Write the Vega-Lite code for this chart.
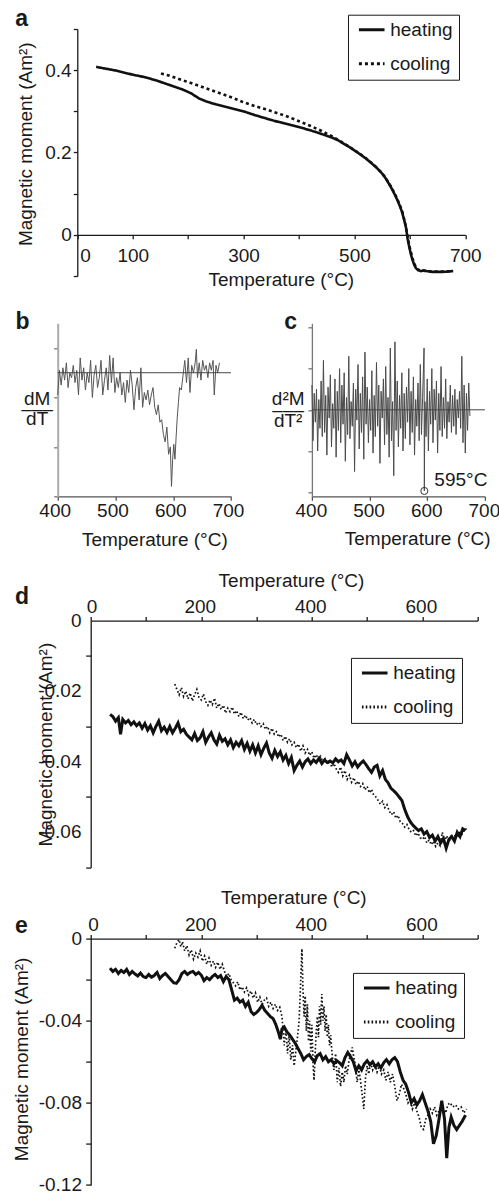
{
  "$schema": "https://vega.github.io/schema/vega-lite/v6.json",
  "background": "white",
  "padding": {"left": 11.7, "top": 7, "right": 0, "bottom": 0},
  "config": {
    "font": "Liberation Sans",
    "view": {"stroke": null},
    "axis": {"grid": false, "labelFontSize": 19, "titleFontSize": 19, "titleFontWeight": "normal", "labelColor": "#1a1a1a", "titleColor": "#1a1a1a", "domainColor": "#1a1a1a", "tickColor": "#1a1a1a", "domainWidth": 1.3, "tickWidth": 1.3, "tickSize": 5, "labelFlush": false, "labelOverlap": false, "labelPadding": 3},
    "legend": {"labelFontSize": 19, "labelColor": "#1a1a1a", "strokeColor": "#1a1a1a", "fillColor": "white", "padding": 5.5, "rowPadding": 14, "symbolType": "M-1.6,0H1.6", "symbolSize": 256, "symbolStrokeWidth": 3, "symbolStrokeColor": "#111", "symbolOffset": 8.75, "labelOffset": 9}
  },
  "resolve": {"scale": {"strokeDash": "independent"}, "legend": {"strokeDash": "independent"}},
  "datasets": {
    "pah": [{"T":34,"M":0.408},{"T":50,"M":0.404},{"T":70,"M":0.399},{"T":85,"M":0.394},{"T":100,"M":0.389},{"T":115,"M":0.385},{"T":130,"M":0.380},{"T":145,"M":0.374},{"T":160,"M":0.367},{"T":175,"M":0.360},{"T":190,"M":0.353},{"T":205,"M":0.344},{"T":220,"M":0.331},{"T":235,"M":0.323},{"T":250,"M":0.317},{"T":265,"M":0.312},{"T":280,"M":0.307},{"T":300,"M":0.300},{"T":320,"M":0.291},{"T":340,"M":0.283},{"T":355,"M":0.277},{"T":370,"M":0.272},{"T":385,"M":0.267},{"T":400,"M":0.262},{"T":415,"M":0.256},{"T":430,"M":0.250},{"T":445,"M":0.243},{"T":460,"M":0.236},{"T":470,"M":0.230},{"T":480,"M":0.222},{"T":490,"M":0.214},{"T":500,"M":0.205},{"T":510,"M":0.196},{"T":520,"M":0.186},{"T":530,"M":0.175},{"T":540,"M":0.163},{"T":548,"M":0.152},{"T":555,"M":0.140},{"T":561,"M":0.127},{"T":567,"M":0.113},{"T":572,"M":0.100},{"T":577,"M":0.086},{"T":582,"M":0.070},{"T":586,"M":0.055},{"T":590,"M":0.035},{"T":593,"M":0.018},{"T":596,"M":-0.010},{"T":599,"M":-0.030},{"T":602,"M":-0.048},{"T":605,"M":-0.062},{"T":608,"M":-0.073},{"T":611,"M":-0.081},{"T":615,"M":-0.086},{"T":620,"M":-0.088},{"T":625,"M":-0.086},{"T":630,"M":-0.088},{"T":640,"M":-0.090},{"T":650,"M":-0.090},{"T":660,"M":-0.090},{"T":670,"M":-0.089},{"T":678,"M":-0.088}],
    "pac": [{"T":151,"M":0.392},{"T":165,"M":0.387},{"T":180,"M":0.380},{"T":200,"M":0.371},{"T":220,"M":0.362},{"T":240,"M":0.352},{"T":260,"M":0.343},{"T":280,"M":0.333},{"T":300,"M":0.322},{"T":320,"M":0.313},{"T":340,"M":0.305},{"T":360,"M":0.296},{"T":380,"M":0.287},{"T":400,"M":0.276},{"T":420,"M":0.265},{"T":440,"M":0.253},{"T":460,"M":0.239},{"T":480,"M":0.223},{"T":500,"M":0.206},{"T":520,"M":0.187},{"T":540,"M":0.164},{"T":555,"M":0.141},{"T":567,"M":0.115},{"T":577,"M":0.088},{"T":586,"M":0.058},{"T":592,"M":0.025},{"T":596,"M":-0.005},{"T":600,"M":-0.032},{"T":605,"M":-0.058},{"T":610,"M":-0.076},{"T":615,"M":-0.085},{"T":620,"M":-0.087},{"T":640,"M":-0.089},{"T":660,"M":-0.089},{"T":678,"M":-0.088}],
    "pb": [{"T":400,"v":-0.9},{"T":403,"v":0.1},{"T":406,"v":-0.5},{"T":409,"v":0.2},{"T":412,"v":-0.3},{"T":415,"v":0.4},{"T":418,"v":-0.6},{"T":421,"v":0.0},{"T":424,"v":-0.2},{"T":427,"v":0.3},{"T":430,"v":-0.4},{"T":433,"v":0.1},{"T":436,"v":-0.9},{"T":439,"v":0.6},{"T":442,"v":-0.3},{"T":445,"v":0.2},{"T":448,"v":-0.7},{"T":451,"v":0.0},{"T":454,"v":-0.4},{"T":457,"v":0.5},{"T":460,"v":-1.0},{"T":463,"v":-0.1},{"T":466,"v":0.3},{"T":469,"v":-0.6},{"T":472,"v":-0.2},{"T":475,"v":0.5},{"T":478,"v":-0.9},{"T":481,"v":-0.3},{"T":484,"v":0.2},{"T":487,"v":-0.7},{"T":490,"v":0.7},{"T":493,"v":-0.4},{"T":496,"v":0.6},{"T":499,"v":-0.8},{"T":502,"v":-0.2},{"T":505,"v":-0.6},{"T":508,"v":0.0},{"T":511,"v":-0.9},{"T":514,"v":-0.4},{"T":517,"v":-1.2},{"T":520,"v":-0.3},{"T":523,"v":-0.8},{"T":526,"v":0.1},{"T":529,"v":-0.5},{"T":532,"v":-1.5},{"T":535,"v":-0.6},{"T":538,"v":-0.2},{"T":541,"v":-1.1},{"T":544,"v":0.2},{"T":547,"v":-1.4},{"T":550,"v":-0.8},{"T":553,"v":-1.1},{"T":556,"v":-0.7},{"T":559,"v":-1.3},{"T":562,"v":-0.9},{"T":565,"v":-0.6},{"T":568,"v":-1.4},{"T":571,"v":-1.7},{"T":574,"v":-1.3},{"T":577,"v":-2.0},{"T":580,"v":-1.9},{"T":583,"v":-2.5},{"T":586,"v":-2.8},{"T":589,"v":-2.2},{"T":592,"v":-3.3},{"T":595,"v":-3.0},{"T":597,"v":-4.6},{"T":599,"v":-3.5},{"T":601,"v":-2.9},{"T":603,"v":-3.5},{"T":605,"v":-2.6},{"T":607,"v":-1.8},{"T":609,"v":-1.2},{"T":611,"v":-0.6},{"T":614,"v":-0.7},{"T":617,"v":-0.1},{"T":620,"v":0.5},{"T":623,"v":-0.4},{"T":626,"v":0.6},{"T":629,"v":-0.8},{"T":632,"v":0.3},{"T":635,"v":0.0},{"T":638,"v":0.4},{"T":640,"v":0.95},{"T":642,"v":-0.2},{"T":645,"v":0.4},{"T":648,"v":-0.3},{"T":651,"v":0.5},{"T":654,"v":0.1},{"T":657,"v":0.3},{"T":660,"v":-0.2},{"T":663,"v":0.4},{"T":666,"v":0.1},{"T":669,"v":0.5},{"T":671,"v":-0.9},{"T":674,"v":0.3},{"T":677,"v":0.0},{"T":680,"v":0.4}],
    "pc": [{"T":400,"v":1.2},{"T":402,"v":-1.5},{"T":404,"v":0.8},{"T":406,"v":-0.6},{"T":408,"v":1.0},{"T":410,"v":-2.0},{"T":412,"v":0.5},{"T":414,"v":-0.9},{"T":416,"v":1.4},{"T":418,"v":-1.3},{"T":420,"v":2.4},{"T":422,"v":-1.1},{"T":424,"v":0.7},{"T":426,"v":-2.2},{"T":428,"v":1.1},{"T":430,"v":-0.4},{"T":432,"v":1.7},{"T":434,"v":-1.8},{"T":436,"v":0.3},{"T":438,"v":-0.9},{"T":440,"v":1.5},{"T":442,"v":-2.3},{"T":444,"v":0.9},{"T":446,"v":-1.0},{"T":448,"v":2.0},{"T":450,"v":-1.6},{"T":452,"v":1.2},{"T":454,"v":-0.7},{"T":456,"v":1.8},{"T":458,"v":-2.5},{"T":460,"v":0.6},{"T":462,"v":-1.2},{"T":464,"v":2.6},{"T":466,"v":-1.4},{"T":468,"v":0.4},{"T":470,"v":-0.8},{"T":472,"v":1.3},{"T":474,"v":-3.0},{"T":476,"v":1.0},{"T":478,"v":-0.5},{"T":480,"v":2.2},{"T":482,"v":-1.9},{"T":484,"v":0.8},{"T":486,"v":-1.1},{"T":488,"v":1.6},{"T":490,"v":-2.4},{"T":492,"v":2.8},{"T":494,"v":-0.7},{"T":496,"v":1.1},{"T":498,"v":-1.6},{"T":500,"v":0.5},{"T":502,"v":-1.0},{"T":504,"v":1.9},{"T":506,"v":-2.1},{"T":508,"v":0.7},{"T":510,"v":-1.3},{"T":512,"v":2.3},{"T":514,"v":-0.8},{"T":516,"v":1.2},{"T":518,"v":-2.6},{"T":520,"v":0.9},{"T":522,"v":-0.4},{"T":524,"v":1.5},{"T":526,"v":-1.7},{"T":528,"v":2.1},{"T":530,"v":-1.2},{"T":532,"v":0.6},{"T":534,"v":-2.3},{"T":536,"v":3.0},{"T":538,"v":-1.5},{"T":540,"v":0.4},{"T":542,"v":-3.2},{"T":544,"v":3.3},{"T":546,"v":-1.0},{"T":548,"v":1.4},{"T":550,"v":-1.8},{"T":552,"v":0.7},{"T":554,"v":-0.9},{"T":556,"v":1.8},{"T":558,"v":-2.0},{"T":560,"v":0.8},{"T":562,"v":-1.4},{"T":564,"v":1.1},{"T":566,"v":-0.6},{"T":568,"v":2.0},{"T":570,"v":-1.7},{"T":572,"v":0.9},{"T":574,"v":-1.1},{"T":576,"v":1.6},{"T":578,"v":-2.2},{"T":580,"v":0.5},{"T":582,"v":-0.8},{"T":584,"v":1.3},{"T":586,"v":-1.5},{"T":588,"v":2.2},{"T":590,"v":-1.2},{"T":592,"v":0.6},{"T":594.5,"v":3.0},{"T":595,"v":-3.94},{"T":596,"v":0.4},{"T":598,"v":-1.3},{"T":600,"v":1.5},{"T":602,"v":-2.0},{"T":604,"v":0.9},{"T":606,"v":-0.7},{"T":608,"v":2.0},{"T":610,"v":-1.6},{"T":612,"v":1.0},{"T":614,"v":-0.5},{"T":616,"v":1.4},{"T":618,"v":-2.1},{"T":620,"v":0.8},{"T":622,"v":-1.0},{"T":624,"v":2.1},{"T":626,"v":-1.3},{"T":628,"v":0.6},{"T":630,"v":-0.9},{"T":632,"v":1.5},{"T":634,"v":-1.4},{"T":636,"v":0.4},{"T":638,"v":-0.6},{"T":640,"v":1.2},{"T":642,"v":-1.1},{"T":644,"v":0.7},{"T":646,"v":-0.8},{"T":648,"v":1.0},{"T":650,"v":-1.2},{"T":652,"v":0.5},{"T":654,"v":-0.4},{"T":656,"v":0.9},{"T":658,"v":-0.9},{"T":660,"v":2.6},{"T":662,"v":-1.6},{"T":664,"v":1.2},{"T":666,"v":-2.1},{"T":668,"v":0.8},{"T":670,"v":-1.0},{"T":672,"v":1.3},{"T":674,"v":-0.3}],
    "pdh": [{"T":35,"M":-0.0266},{"T":40,"M":-0.0272},{"T":45,"M":-0.0285},{"T":50,"M":-0.0275},{"T":54,"M":-0.0322},{"T":58,"M":-0.028},{"T":63,"M":-0.029},{"T":68,"M":-0.0283},{"T":73,"M":-0.0295},{"T":78,"M":-0.0287},{"T":83,"M":-0.0298},{"T":88,"M":-0.029},{"T":93,"M":-0.0305},{"T":98,"M":-0.0292},{"T":103,"M":-0.031},{"T":108,"M":-0.0298},{"T":113,"M":-0.0318},{"T":118,"M":-0.03},{"T":123,"M":-0.0285},{"T":128,"M":-0.0312},{"T":133,"M":-0.0302},{"T":138,"M":-0.0317},{"T":143,"M":-0.03},{"T":148,"M":-0.0318},{"T":153,"M":-0.0305},{"T":158,"M":-0.029},{"T":163,"M":-0.0315},{"T":168,"M":-0.0308},{"T":173,"M":-0.0322},{"T":178,"M":-0.033},{"T":183,"M":-0.0338},{"T":188,"M":-0.032},{"T":193,"M":-0.034},{"T":198,"M":-0.0332},{"T":203,"M":-0.0315},{"T":208,"M":-0.0345},{"T":213,"M":-0.033},{"T":218,"M":-0.0318},{"T":223,"M":-0.0338},{"T":228,"M":-0.035},{"T":233,"M":-0.0325},{"T":238,"M":-0.0342},{"T":243,"M":-0.0335},{"T":248,"M":-0.0352},{"T":253,"M":-0.0338},{"T":258,"M":-0.036},{"T":263,"M":-0.0345},{"T":268,"M":-0.0355},{"T":273,"M":-0.034},{"T":278,"M":-0.0365},{"T":283,"M":-0.0348},{"T":288,"M":-0.037},{"T":293,"M":-0.0352},{"T":298,"M":-0.0375},{"T":303,"M":-0.0355},{"T":308,"M":-0.038},{"T":313,"M":-0.0362},{"T":318,"M":-0.0347},{"T":323,"M":-0.0375},{"T":328,"M":-0.039},{"T":333,"M":-0.0368},{"T":338,"M":-0.0385},{"T":343,"M":-0.0372},{"T":348,"M":-0.0395},{"T":353,"M":-0.0382},{"T":358,"M":-0.0405},{"T":363,"M":-0.0388},{"T":368,"M":-0.0425},{"T":373,"M":-0.041},{"T":378,"M":-0.0398},{"T":383,"M":-0.0415},{"T":388,"M":-0.04},{"T":393,"M":-0.0392},{"T":398,"M":-0.0405},{"T":403,"M":-0.0395},{"T":408,"M":-0.0402},{"T":413,"M":-0.039},{"T":418,"M":-0.0405},{"T":423,"M":-0.0395},{"T":428,"M":-0.0402},{"T":433,"M":-0.0398},{"T":438,"M":-0.0403},{"T":443,"M":-0.0392},{"T":448,"M":-0.04},{"T":453,"M":-0.0395},{"T":458,"M":-0.0405},{"T":463,"M":-0.038},{"T":468,"M":-0.0395},{"T":473,"M":-0.0412},{"T":478,"M":-0.04},{"T":483,"M":-0.0415},{"T":488,"M":-0.0405},{"T":493,"M":-0.0398},{"T":498,"M":-0.0408},{"T":503,"M":-0.042},{"T":508,"M":-0.043},{"T":513,"M":-0.0415},{"T":518,"M":-0.041},{"T":523,"M":-0.044},{"T":528,"M":-0.0425},{"T":533,"M":-0.045},{"T":538,"M":-0.046},{"T":543,"M":-0.0475},{"T":548,"M":-0.0482},{"T":553,"M":-0.049},{"T":558,"M":-0.05},{"T":563,"M":-0.051},{"T":568,"M":-0.0535},{"T":573,"M":-0.0555},{"T":578,"M":-0.057},{"T":583,"M":-0.058},{"T":588,"M":-0.0588},{"T":593,"M":-0.0595},{"T":598,"M":-0.059},{"T":603,"M":-0.0605},{"T":608,"M":-0.0598},{"T":613,"M":-0.0615},{"T":618,"M":-0.0608},{"T":623,"M":-0.0625},{"T":628,"M":-0.0612},{"T":633,"M":-0.063},{"T":638,"M":-0.0618},{"T":643,"M":-0.0645},{"T":648,"M":-0.062},{"T":653,"M":-0.0612},{"T":658,"M":-0.0625},{"T":663,"M":-0.06},{"T":668,"M":-0.0612},{"T":673,"M":-0.059},{"T":678,"M":-0.0595}],
    "pdc": [{"T":152,"M":-0.018},{"T":156,"M":-0.0195},{"T":160,"M":-0.021},{"T":164,"M":-0.019},{"T":168,"M":-0.0215},{"T":172,"M":-0.02},{"T":176,"M":-0.0222},{"T":180,"M":-0.0205},{"T":184,"M":-0.0228},{"T":188,"M":-0.021},{"T":192,"M":-0.0195},{"T":196,"M":-0.0218},{"T":200,"M":-0.0225},{"T":204,"M":-0.0208},{"T":208,"M":-0.023},{"T":212,"M":-0.024},{"T":216,"M":-0.0225},{"T":220,"M":-0.0238},{"T":224,"M":-0.022},{"T":228,"M":-0.0248},{"T":232,"M":-0.0235},{"T":236,"M":-0.0252},{"T":240,"M":-0.024},{"T":244,"M":-0.0262},{"T":248,"M":-0.0248},{"T":252,"M":-0.0258},{"T":256,"M":-0.0245},{"T":260,"M":-0.0265},{"T":264,"M":-0.0255},{"T":268,"M":-0.0272},{"T":272,"M":-0.026},{"T":276,"M":-0.0278},{"T":280,"M":-0.0268},{"T":284,"M":-0.0282},{"T":288,"M":-0.0275},{"T":292,"M":-0.029},{"T":296,"M":-0.028},{"T":300,"M":-0.0295},{"T":304,"M":-0.0288},{"T":308,"M":-0.03},{"T":312,"M":-0.0292},{"T":316,"M":-0.0308},{"T":320,"M":-0.03},{"T":324,"M":-0.0318},{"T":328,"M":-0.0305},{"T":332,"M":-0.0322},{"T":336,"M":-0.0315},{"T":340,"M":-0.033},{"T":344,"M":-0.0322},{"T":348,"M":-0.034},{"T":352,"M":-0.0328},{"T":356,"M":-0.0345},{"T":360,"M":-0.0335},{"T":364,"M":-0.0352},{"T":368,"M":-0.0345},{"T":372,"M":-0.036},{"T":376,"M":-0.035},{"T":380,"M":-0.037},{"T":384,"M":-0.0355},{"T":388,"M":-0.0375},{"T":392,"M":-0.0365},{"T":396,"M":-0.0382},{"T":400,"M":-0.0372},{"T":404,"M":-0.039},{"T":408,"M":-0.038},{"T":412,"M":-0.0395},{"T":416,"M":-0.0385},{"T":420,"M":-0.0402},{"T":424,"M":-0.0392},{"T":428,"M":-0.0408},{"T":432,"M":-0.0398},{"T":436,"M":-0.0415},{"T":440,"M":-0.0405},{"T":444,"M":-0.042},{"T":448,"M":-0.043},{"T":452,"M":-0.0415},{"T":456,"M":-0.044},{"T":460,"M":-0.0425},{"T":464,"M":-0.045},{"T":468,"M":-0.0438},{"T":472,"M":-0.0458},{"T":476,"M":-0.0445},{"T":480,"M":-0.0465},{"T":484,"M":-0.0455},{"T":488,"M":-0.047},{"T":492,"M":-0.0462},{"T":496,"M":-0.048},{"T":500,"M":-0.047},{"T":504,"M":-0.0488},{"T":508,"M":-0.0478},{"T":512,"M":-0.0495},{"T":516,"M":-0.05},{"T":520,"M":-0.051},{"T":524,"M":-0.052},{"T":528,"M":-0.0512},{"T":532,"M":-0.053},{"T":536,"M":-0.0522},{"T":540,"M":-0.054},{"T":544,"M":-0.055},{"T":548,"M":-0.0542},{"T":552,"M":-0.056},{"T":556,"M":-0.0552},{"T":560,"M":-0.057},{"T":564,"M":-0.0575},{"T":568,"M":-0.0585},{"T":572,"M":-0.0578},{"T":576,"M":-0.0592},{"T":580,"M":-0.06},{"T":584,"M":-0.0595},{"T":588,"M":-0.061},{"T":592,"M":-0.0602},{"T":596,"M":-0.0615},{"T":600,"M":-0.062},{"T":604,"M":-0.0612},{"T":608,"M":-0.063},{"T":612,"M":-0.0622},{"T":616,"M":-0.0635},{"T":620,"M":-0.0625},{"T":624,"M":-0.064},{"T":628,"M":-0.063},{"T":632,"M":-0.0638},{"T":636,"M":-0.06},{"T":640,"M":-0.0625},{"T":644,"M":-0.061},{"T":648,"M":-0.0628},{"T":652,"M":-0.0612},{"T":656,"M":-0.062},{"T":660,"M":-0.0605},{"T":664,"M":-0.0615},{"T":668,"M":-0.0598},{"T":672,"M":-0.0605},{"T":676,"M":-0.0592},{"T":680,"M":-0.059}],
    "pdl": [{"M":0,"s":"0"},{"M":-0.02,"s":"-0.02"},{"M":-0.04,"s":"-0.04"},{"M":-0.06,"s":"-0.06"}],
    "peh": [{"T":35,"M":-0.0144},{"T":40,"M":-0.016},{"T":45,"M":-0.015},{"T":50,"M":-0.017},{"T":55,"M":-0.0155},{"T":60,"M":-0.0165},{"T":65,"M":-0.015},{"T":70,"M":-0.0175},{"T":75,"M":-0.016},{"T":80,"M":-0.0172},{"T":85,"M":-0.0182},{"T":90,"M":-0.0168},{"T":95,"M":-0.0185},{"T":100,"M":-0.019},{"T":105,"M":-0.0175},{"T":110,"M":-0.0188},{"T":115,"M":-0.018},{"T":120,"M":-0.0165},{"T":125,"M":-0.0195},{"T":130,"M":-0.018},{"T":135,"M":-0.017},{"T":140,"M":-0.0185},{"T":145,"M":-0.02},{"T":150,"M":-0.0215},{"T":155,"M":-0.0218},{"T":160,"M":-0.02},{"T":165,"M":-0.017},{"T":170,"M":-0.016},{"T":175,"M":-0.0175},{"T":180,"M":-0.0165},{"T":185,"M":-0.016},{"T":190,"M":-0.0175},{"T":195,"M":-0.0165},{"T":200,"M":-0.0178},{"T":205,"M":-0.0205},{"T":210,"M":-0.019},{"T":215,"M":-0.02},{"T":220,"M":-0.0185},{"T":225,"M":-0.0175},{"T":230,"M":-0.019},{"T":235,"M":-0.018},{"T":240,"M":-0.021},{"T":245,"M":-0.0185},{"T":250,"M":-0.02},{"T":255,"M":-0.025},{"T":260,"M":-0.03},{"T":265,"M":-0.029},{"T":270,"M":-0.031},{"T":275,"M":-0.03},{"T":280,"M":-0.033},{"T":285,"M":-0.031},{"T":290,"M":-0.0355},{"T":295,"M":-0.037},{"T":300,"M":-0.036},{"T":305,"M":-0.0345},{"T":310,"M":-0.0325},{"T":315,"M":-0.035},{"T":320,"M":-0.0365},{"T":325,"M":-0.038},{"T":330,"M":-0.039},{"T":335,"M":-0.042},{"T":340,"M":-0.046},{"T":343,"M":-0.049},{"T":346,"M":-0.044},{"T":350,"M":-0.043},{"T":355,"M":-0.0455},{"T":360,"M":-0.047},{"T":365,"M":-0.049},{"T":370,"M":-0.051},{"T":375,"M":-0.0535},{"T":380,"M":-0.056},{"T":385,"M":-0.059},{"T":390,"M":-0.0575},{"T":395,"M":-0.0565},{"T":400,"M":-0.0585},{"T":405,"M":-0.06},{"T":410,"M":-0.057},{"T":415,"M":-0.056},{"T":420,"M":-0.059},{"T":425,"M":-0.0575},{"T":430,"M":-0.06},{"T":435,"M":-0.059},{"T":440,"M":-0.061},{"T":445,"M":-0.0595},{"T":450,"M":-0.0605},{"T":455,"M":-0.062},{"T":460,"M":-0.058},{"T":465,"M":-0.0555},{"T":470,"M":-0.0575},{"T":475,"M":-0.06},{"T":480,"M":-0.0645},{"T":485,"M":-0.062},{"T":490,"M":-0.064},{"T":495,"M":-0.061},{"T":500,"M":-0.0595},{"T":505,"M":-0.0615},{"T":510,"M":-0.06},{"T":515,"M":-0.0625},{"T":520,"M":-0.061},{"T":525,"M":-0.063},{"T":530,"M":-0.0605},{"T":535,"M":-0.059},{"T":540,"M":-0.061},{"T":545,"M":-0.059},{"T":550,"M":-0.058},{"T":555,"M":-0.06},{"T":560,"M":-0.065},{"T":565,"M":-0.069},{"T":570,"M":-0.071},{"T":575,"M":-0.075},{"T":580,"M":-0.08},{"T":585,"M":-0.078},{"T":590,"M":-0.081},{"T":595,"M":-0.079},{"T":600,"M":-0.076},{"T":605,"M":-0.08},{"T":610,"M":-0.084},{"T":615,"M":-0.089},{"T":620,"M":-0.1},{"T":625,"M":-0.096},{"T":630,"M":-0.088},{"T":635,"M":-0.079},{"T":640,"M":-0.088},{"T":644,"M":-0.107},{"T":648,"M":-0.092},{"T":652,"M":-0.087},{"T":657,"M":-0.091},{"T":662,"M":-0.093},{"T":667,"M":-0.091},{"T":672,"M":-0.089},{"T":678,"M":-0.086}],
    "pec": [{"T":152,"M":-0.0047},{"T":156,"M":-0.002},{"T":160,"M":-0.0005},{"T":163,"M":-0.004},{"T":166,"M":-0.0015},{"T":170,"M":-0.006},{"T":174,"M":-0.0035},{"T":178,"M":-0.008},{"T":182,"M":-0.0055},{"T":186,"M":-0.01},{"T":190,"M":-0.007},{"T":194,"M":-0.009},{"T":198,"M":-0.006},{"T":202,"M":-0.011},{"T":206,"M":-0.0085},{"T":210,"M":-0.0125},{"T":214,"M":-0.0095},{"T":218,"M":-0.013},{"T":222,"M":-0.011},{"T":226,"M":-0.014},{"T":230,"M":-0.0115},{"T":234,"M":-0.015},{"T":238,"M":-0.0125},{"T":242,"M":-0.016},{"T":246,"M":-0.0185},{"T":250,"M":-0.017},{"T":254,"M":-0.02},{"T":258,"M":-0.0215},{"T":262,"M":-0.023},{"T":266,"M":-0.021},{"T":270,"M":-0.025},{"T":274,"M":-0.0235},{"T":278,"M":-0.026},{"T":282,"M":-0.024},{"T":286,"M":-0.0275},{"T":290,"M":-0.0255},{"T":294,"M":-0.029},{"T":298,"M":-0.0265},{"T":302,"M":-0.031},{"T":306,"M":-0.0285},{"T":310,"M":-0.032},{"T":314,"M":-0.03},{"T":318,"M":-0.029},{"T":322,"M":-0.033},{"T":326,"M":-0.031},{"T":330,"M":-0.034},{"T":334,"M":-0.032},{"T":338,"M":-0.035},{"T":342,"M":-0.0335},{"T":346,"M":-0.038},{"T":350,"M":-0.052},{"T":353,"M":-0.044},{"T":356,"M":-0.056},{"T":359,"M":-0.047},{"T":362,"M":-0.059},{"T":365,"M":-0.052},{"T":368,"M":-0.062},{"T":371,"M":-0.055},{"T":374,"M":-0.048},{"T":377,"M":-0.04},{"T":380,"M":-0.02},{"T":382,"M":-0.005},{"T":384,"M":-0.025},{"T":386,"M":-0.038},{"T":388,"M":-0.028},{"T":390,"M":-0.045},{"T":392,"M":-0.032},{"T":394,"M":-0.05},{"T":396,"M":-0.04},{"T":398,"M":-0.055},{"T":400,"M":-0.042},{"T":402,"M":-0.06},{"T":404,"M":-0.069},{"T":406,"M":-0.056},{"T":408,"M":-0.045},{"T":410,"M":-0.038},{"T":412,"M":-0.048},{"T":414,"M":-0.033},{"T":416,"M":-0.042},{"T":418,"M":-0.027},{"T":420,"M":-0.04},{"T":422,"M":-0.033},{"T":424,"M":-0.045},{"T":426,"M":-0.037},{"T":428,"M":-0.048},{"T":430,"M":-0.042},{"T":432,"M":-0.052},{"T":434,"M":-0.047},{"T":436,"M":-0.054},{"T":438,"M":-0.06},{"T":440,"M":-0.064},{"T":443,"M":-0.056},{"T":446,"M":-0.07},{"T":449,"M":-0.063},{"T":452,"M":-0.072},{"T":455,"M":-0.065},{"T":458,"M":-0.07},{"T":461,"M":-0.062},{"T":464,"M":-0.066},{"T":467,"M":-0.06},{"T":470,"M":-0.056},{"T":473,"M":-0.053},{"T":476,"M":-0.058},{"T":479,"M":-0.062},{"T":482,"M":-0.07},{"T":485,"M":-0.064},{"T":488,"M":-0.069},{"T":491,"M":-0.076},{"T":494,"M":-0.083},{"T":497,"M":-0.068},{"T":500,"M":-0.062},{"T":503,"M":-0.066},{"T":506,"M":-0.06},{"T":510,"M":-0.064},{"T":514,"M":-0.061},{"T":518,"M":-0.065},{"T":522,"M":-0.062},{"T":526,"M":-0.066},{"T":530,"M":-0.064},{"T":534,"M":-0.069},{"T":538,"M":-0.065},{"T":542,"M":-0.07},{"T":546,"M":-0.066},{"T":550,"M":-0.072},{"T":554,"M":-0.079},{"T":558,"M":-0.076},{"T":562,"M":-0.071},{"T":566,"M":-0.073},{"T":570,"M":-0.076},{"T":574,"M":-0.08},{"T":578,"M":-0.078},{"T":582,"M":-0.083},{"T":586,"M":-0.08},{"T":590,"M":-0.084},{"T":594,"M":-0.087},{"T":598,"M":-0.092},{"T":602,"M":-0.093},{"T":606,"M":-0.088},{"T":610,"M":-0.086},{"T":614,"M":-0.083},{"T":618,"M":-0.085},{"T":622,"M":-0.082},{"T":626,"M":-0.086},{"T":630,"M":-0.084},{"T":634,"M":-0.081},{"T":638,"M":-0.083},{"T":642,"M":-0.085},{"T":646,"M":-0.081},{"T":650,"M":-0.08},{"T":655,"M":-0.082},{"T":660,"M":-0.081},{"T":665,"M":-0.083},{"T":670,"M":-0.082},{"T":675,"M":-0.085},{"T":680,"M":-0.083}]
  },
  "columns": 1,
  "spacing": 20.3,
  "concat": [
    {
      "width": 375, "height": 247,
      "layer": [
        {"data": {"name": "pah"}, "mark": {"type": "line", "strokeWidth": 2.6, "color": "#111"},
          "encoding": {
            "x": {"field": "T", "type": "quantitative", "scale": {"domain": [0, 700], "range": [-13.4, 374.6], "nice": false, "zero": false},
              "axis": {"values": [0, 100, 200, 300, 400, 500, 600, 700], "labelExpr": "indexof([200,400,600], datum.value) >= 0 ? '' : datum.label", "labelAlign": {"condition": {"test": "datum.value == 0", "value": "left"}, "value": "center"}, "labelOffset": {"condition": {"test": "datum.value == 0", "value": 2.5}, "value": 0}, "offset": -41.17, "tickSize": 4, "labelPadding": 7.3, "title": "Temperature (°C)", "titleX": 190.1, "titlePadding": 4.9}},
            "y": {"field": "M", "type": "quantitative", "scale": {"domain": [-0.1, 0.5], "nice": false, "zero": false},
              "axis": {"values": [-0.1, 0, 0.1, 0.2, 0.3, 0.4, 0.5], "labelExpr": "datum.value == 0 ? '0' : (datum.value == 0.2 || datum.value == 0.4 ? format(datum.value, '.1f') : '')", "offset": 13.4, "tickSize": 4, "labelPadding": 2.1, "title": "Magnetic moment (Am²)", "titleY": 114.7, "titlePadding": 9.3}},
            "strokeDash": {"datum": "heating", "type": "nominal", "scale": {"domain": ["heating", "cooling"], "range": [[1, 0], [3, 3]]},
              "legend": {"title": null, "orient": "none", "legendX": 257.3, "legendY": -14.3, "labelExpr": "datum.label + '\u00a0\u00a0\u00a0\u00a0'"}}}},
        {"data": {"name": "pac"}, "mark": {"type": "line", "strokeWidth": 2.6, "color": "#111"},
          "encoding": {"x": {"field": "T", "type": "quantitative"}, "y": {"field": "M", "type": "quantitative"}, "strokeDash": {"datum": "cooling", "type": "nominal"}}},
        {"data": {"values": [{}]}, "mark": {"type": "text", "text": "a", "fontSize": 23, "fontWeight": "bold", "align": "left", "baseline": "alphabetic", "color": "#1a1a1a"},
          "encoding": {"x": {"datum": -111.86}, "y": {"datum": 0.50802}}}
      ]
    },
    {
      "hconcat": [
        {
          "width": 140.3, "height": 173,
          "layer": [
            {"data": {"name": "pb"}, "mark": {"type": "line", "color": "#555", "strokeWidth": 1},
              "encoding": {
                "x": {"field": "T", "type": "quantitative", "scale": {"domain": [400, 700], "range": [-33, 140.3], "nice": false, "zero": false},
                  "axis": {"values": [400, 450, 500, 550, 600, 650, 700], "labelExpr": "datum.value % 100 == 0 ? datum.label : ''", "labelOffset": -3, "tickSize": 4, "labelPadding": 1.3, "domainColor": "#555", "tickColor": "#555", "title": "Temperature (°C)", "titleX": 63.6, "titlePadding": 10.2}},
                "y": {"field": "v", "type": "quantitative", "scale": {"domain": [-5, 2], "nice": false, "zero": false},
                  "axis": {"values": [-5, -4, -3, -2, -1, 0, 1, 2], "labels": false, "offset": 33, "tickSize": 4, "domainColor": "#aaa", "domainWidth": 2, "tickColor": "#777", "title": ["dM", "–––", "dT"], "titleAngle": 0, "titleAlign": "center", "titleBaseline": "middle", "titleLineHeight": 10, "titleX": -21, "titleY": 75.5}}
              }},
            {"data": {"values": [{}]}, "mark": {"type": "rule", "color": "#444", "strokeWidth": 1}, "encoding": {"x": {"datum": 400}, "x2": {"datum": 700}, "y": {"datum": 0}}},
            {"data": {"values": [{}]}, "mark": {"type": "text", "text": "b", "fontSize": 23, "fontWeight": "bold", "align": "left", "baseline": "alphabetic", "color": "#1a1a1a"},
              "encoding": {"x": {"datum": 327.1}, "y": {"datum": 1.7694}}}
          ]
        },
        {
          "width": 173, "height": 173,
          "layer": [
            {"data": {"name": "pc"}, "mark": {"type": "line", "color": "#4a4a4a", "strokeWidth": 1},
              "encoding": {
                "x": {"field": "T", "type": "quantitative", "scale": {"domain": [400, 700], "nice": false, "zero": false},
                  "axis": {"values": [400, 450, 500, 550, 600, 650, 700], "labelExpr": "datum.value % 100 == 0 ? datum.label : ''", "labelOffset": -1, "tickSize": 4, "labelPadding": 1.3, "domainColor": "#555", "tickColor": "#555", "title": "Temperature (°C)", "titleX": 105.3, "titlePadding": 8.9}},
                "y": {"field": "v", "type": "quantitative", "scale": {"domain": [-4.2, 4.2], "nice": false, "zero": false},
                  "axis": {"values": [-4, -3, -2, -1, 0, 1, 2, 3, 4], "labels": false, "tickSize": 4, "domainColor": "#777", "tickColor": "#777", "title": ["d²M", "–––", "dT²"], "titleAngle": 0, "titleAlign": "center", "titleBaseline": "middle", "titleLineHeight": 11, "titleX": -24.2, "titleY": 75.5}}
              }},
            {"data": {"values": [{}]}, "mark": {"type": "rule", "color": "#444", "strokeWidth": 1}, "encoding": {"x": {"datum": 400}, "x2": {"datum": 700}, "y": {"datum": 0}}},
            {"data": {"values": [{"T": 595, "v": -3.94}]}, "mark": {"type": "point", "shape": "circle", "filled": false, "color": "#333", "size": 50, "strokeWidth": 1, "opacity": 1},
              "encoding": {"x": {"field": "T", "type": "quantitative"}, "y": {"field": "v", "type": "quantitative"}}},
            {"data": {"values": [{"T": 612.4, "v": -3.4, "s": "595°C"}]}, "mark": {"type": "text", "align": "left", "baseline": "middle", "fontSize": 19, "color": "#1a1a1a"},
              "encoding": {"x": {"field": "T", "type": "quantitative"}, "y": {"field": "v", "type": "quantitative"}, "text": {"field": "s"}}},
            {"data": {"values": [{}]}, "mark": {"type": "text", "text": "c", "fontSize": 23, "fontWeight": "bold", "align": "left", "baseline": "alphabetic", "color": "#1a1a1a"},
              "encoding": {"x": {"datum": 352.1}, "y": {"datum": 3.923}}}
          ]
        }
      ],
      "spacing": 6.2
    },
    {
      "resolve": {"scale": {"strokeDash": "independent"}, "legend": {"strokeDash": "independent"}},
      "vconcat": [
        {
          "width": 387, "height": 247,
          "layer": [
            {"data": {"name": "pdh"}, "mark": {"type": "line", "strokeWidth": 3, "color": "#111"},
              "encoding": {
                "x": {"field": "T", "type": "quantitative", "scale": {"domain": [0, 700], "nice": false, "zero": false},
                  "axis": {"orient": "top", "values": [0, 100, 200, 300, 400, 500, 600, 700], "labelExpr": "datum.value % 200 == 0 ? datum.label : ''", "labelOffset": {"condition": {"test": "datum.value == 0", "value": 0.8}, "value": -1.5}, "tickSize": 4, "labelPadding": 0.4, "title": "Temperature (°C)", "titleX": 200.3, "titlePadding": 7}},
                "y": {"field": "M", "type": "quantitative", "scale": {"domain": [-0.07, 0], "nice": false, "zero": false},
                  "axis": {"values": [0, -0.01, -0.02, -0.03, -0.04, -0.05, -0.06, -0.07], "labels": false, "tickSize": 5, "title": "Magnetic moment (Am²)", "titleY": 123.5, "titlePadding": 30}},
                "strokeDash": {"datum": "heating", "type": "nominal", "scale": {"domain": ["heating", "cooling"], "range": [[1, 0], [1.6, 2.2]]},
                  "legend": {"title": null, "orient": "none", "legendX": 260.3, "legendY": 37.3, "labelExpr": "datum.label + '\u00a0\u00a0\u00a0\u00a0'"}}}},
            {"data": {"name": "pdc"}, "mark": {"type": "line", "strokeWidth": 1.7, "color": "#111"},
              "encoding": {"x": {"field": "T", "type": "quantitative"}, "y": {"field": "M", "type": "quantitative"}, "strokeDash": {"datum": "cooling", "type": "nominal"}}},
            {"data": {"name": "pdl"}, "mark": {"type": "text", "align": "right", "baseline": "middle", "fontSize": 19, "color": "#1a1a1a"},
              "encoding": {"x": {"datum": -16.64}, "y": {"field": "M", "type": "quantitative"}, "text": {"field": "s"}}},
            {"data": {"values": [{}]}, "mark": {"type": "text", "text": "d", "fontSize": 23, "fontWeight": "bold", "align": "left", "baseline": "alphabetic", "color": "#1a1a1a"},
              "encoding": {"x": {"datum": -136.93}, "y": {"datum": 0.004733}}}
          ]
        },
        {
          "width": 387, "height": 246.3,
          "layer": [
            {"data": {"name": "peh"}, "mark": {"type": "line", "strokeWidth": 3, "color": "#111"},
              "encoding": {
                "x": {"field": "T", "type": "quantitative", "scale": {"domain": [0, 700], "nice": false, "zero": false},
                  "axis": {"orient": "top", "values": [0, 100, 200, 300, 400, 500, 600, 700], "labelExpr": "datum.value % 200 == 0 ? datum.label : ''", "labelOffset": {"condition": {"test": "datum.value == 0", "value": 2.3}, "value": -1}, "tickSize": 4, "labelPadding": 0, "title": "Temperature (°C)", "titleX": 202.6, "titlePadding": 8.4}},
                "y": {"field": "M", "type": "quantitative", "scale": {"domain": [-0.12, 0], "nice": false, "zero": false},
                  "axis": {"values": [0, -0.02, -0.04, -0.06, -0.08, -0.1, -0.12], "labelExpr": "indexof([-0.02,-0.06,-0.1], datum.value) >= 0 ? '' : (datum.value == 0 ? '0' : '-' + format(-datum.value, '.2f'))", "tickSize": 5, "labelPadding": 4.2, "title": "Magnetic moment (Am²)", "titleY": 120.3, "titlePadding": 6.5}},
                "strokeDash": {"datum": "heating", "type": "nominal", "scale": {"domain": ["heating", "cooling"], "range": [[1, 0], [1.6, 2.2]]},
                  "legend": {"title": null, "orient": "none", "legendX": 262.3, "legendY": 34.3, "labelExpr": "datum.label + '\u00a0\u00a0\u00a0\u00a0'"}}}},
            {"data": {"name": "pec"}, "mark": {"type": "line", "strokeWidth": 1.7, "color": "#111"},
              "encoding": {"x": {"field": "T", "type": "quantitative"}, "y": {"field": "M", "type": "quantitative"}, "strokeDash": {"datum": "cooling", "type": "nominal"}}},
            {"data": {"values": [{}]}, "mark": {"type": "text", "text": "e", "fontSize": 23, "fontWeight": "bold", "align": "left", "baseline": "alphabetic", "color": "#1a1a1a"},
              "encoding": {"x": {"datum": -136.75}, "y": {"datum": 0.002777}}}
          ]
        }
      ],
      "spacing": 19
    }
  ]
}
